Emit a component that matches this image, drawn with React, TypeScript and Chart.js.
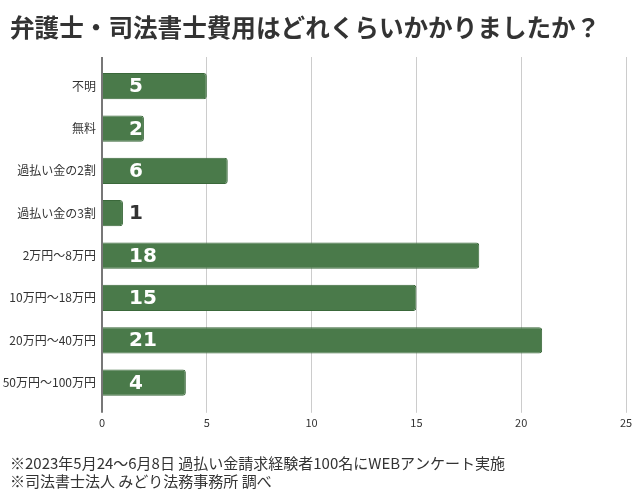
import React, { useEffect, useRef } from "react";
import { Chart, registerables } from "chart.js";

Chart.register(...registerables);

const titleText = "弁護士・司法書士費用はどれくらいかかりましたか？";
const categories = [
  "不明",
  "無料",
  "過払い金の2割",
  "過払い金の3割",
  "2万円～8万円",
  "10万円～18万円",
  "20万円～40万円",
  "50万円～100万円",
];
const values = [5, 2, 6, 1, 18, 15, 21, 4];
const xTicks = [0, 5, 10, 15, 20, 25];
const footerLines = [
  "※2023年5月24～6月8日 過払い金請求経験者100名にWEBアンケート実施",
  "※司法書士法人 みどり法務事務所 調べ",
];

const CJK = "'Noto Sans CJK JP', 'Noto Sans', sans-serif";

const valueLabels = {
  id: "valueLabels",
  afterDatasetsDraw(chart: any) {
    const ctx = chart.ctx;
    const xScale = chart.scales.x;
    const meta = chart.getDatasetMeta(0);
    const x0 = xScale.getPixelForValue(0);
    ctx.save();
    ctx.font = "bold 20px 'DejaVu Sans', sans-serif";
    ctx.textAlign = "left";
    ctx.textBaseline = "middle";
    meta.data.forEach((el: any, i: number) => {
      const txt = String(values[i]);
      const tx = x0 + 27;
      ctx.fillStyle = el.x - x0 < 30 ? "#333333" : "#ffffff";
      ctx.fillText(txt, tx, el.y + 1);
    });
    ctx.restore();
  },
};

const gridColor = (c: any) => (c.tick && c.tick.value === 0 ? "#777777" : "#cccccc");
const gridWidth = (c: any) => (c.tick && c.tick.value === 0 ? 2 : 1);

export default function App() {
  const ref = useRef<HTMLCanvasElement | null>(null);
  useEffect(() => {
    document.body.style.margin = "0";
    if (!ref.current) return;
    const chart = new Chart(ref.current, {
      type: "bar",
      data: {
        labels: categories,
        datasets: [
          {
            data: values,
            backgroundColor: "#4a7a4a",
            borderColor: "#3a683a",
            borderWidth: 1,
            borderRadius: 3,
            categoryPercentage: 1,
            barPercentage: 0.62,
          },
        ],
      },
      options: {
        indexAxis: "y",
        responsive: false,
        animation: false,
        layout: { padding: { left: 10, right: 14, top: 0, bottom: 10 } },
        plugins: {
          legend: { display: false },
          tooltip: { enabled: false },
          title: {
            display: true,
            text: titleText,
            align: "start",
            color: "#333333",
            font: { family: CJK, size: 24.6, weight: "bold", lineHeight: 1.2 },
            padding: { top: 13, bottom: 14.5 },
          },
          subtitle: {
            display: true,
            position: "bottom",
            text: footerLines,
            align: "start",
            color: "#333333",
            font: { family: CJK, size: 15, lineHeight: "18px" },
            padding: { top: 22, bottom: 0 },
          },
        },
        scales: {
          x: {
            type: "linear",
            position: "bottom",
            min: 0,
            max: 25,
            afterBuildTicks: (s: any) => {
              s.ticks = xTicks.map((v) => ({ value: v }));
            },
            grid: { color: gridColor, lineWidth: gridWidth, tickLength: 9 },
            border: { display: false },
            ticks: {
              color: "#333333",
              padding: 3,
              font: { family: CJK, size: 11 },
            },
          },
          x2: {
            type: "linear",
            position: "top",
            min: 0,
            max: 25,
            afterBuildTicks: (s: any) => {
              s.ticks = xTicks.map((v) => ({ value: v }));
            },
            grid: { color: gridColor, lineWidth: gridWidth, tickLength: 8, drawOnChartArea: false },
            border: { display: false },
            ticks: { display: false },
          },
          y: {
            type: "category",
            afterFit: (s: any) => {
              s.width = 92;
              s._computeLabelArea = () => undefined;
            },
            grid: { display: false, drawTicks: false },
            border: { display: false },
            ticks: {
              color: "#333333",
              padding: 6,
              font: { family: CJK, size: 12 },
            },
          },
        },
      },
      plugins: [valueLabels],
    } as any);
    return () => chart.destroy();
  }, []);
  return (
    <div style={{ width: 640, height: 500 }}>
      <canvas ref={ref} width={640} height={500} />
    </div>
  );
}
